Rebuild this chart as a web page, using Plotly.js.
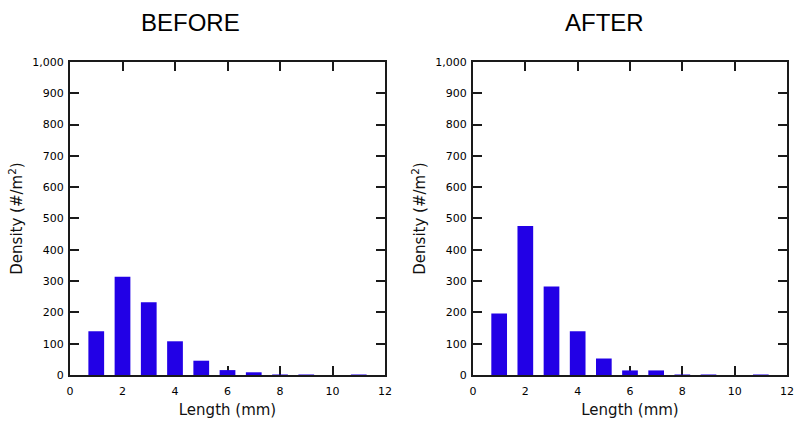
<!DOCTYPE html>
<html>
<head>
<meta charset="utf-8">
<script src="https://cdn.plot.ly/plotly-3.0.1.min.js"></script>
<style>html,body{margin:0;padding:0;background:#fff;}#chart{width:794px;height:421px;}</style>
</head>
<body>
<div id="chart"></div>
<script>
// Data
const lengthBins = [1, 2, 3, 4, 5, 6, 7, 8, 9, 10, 11];
const densityBefore = [140, 314, 233, 108, 46, 16, 9, 2, 2, 0, 2];
const densityAfter = [197, 476, 283, 140, 53, 15, 15, 2, 2, 0, 2];
const panelTitles = ['BEFORE', 'AFTER'];
const xTickVals = [0, 2, 4, 6, 8, 10, 12];
const yTickVals = [0, 100, 200, 300, 400, 500, 600, 700, 800, 900, 1000];

const barColor = '#2200E6';
const lineColor = '#1a1a1a';
const tickFont = {family: 'DejaVu Sans', size: 11, color: '#000'};
const titleFont = {family: 'DejaVu Sans', size: 15, color: '#111'};

function bars(y, xa, ya) {
  return {type: 'bar', x: lengthBins, y: y, width: 0.6, xaxis: xa, yaxis: ya,
          marker: {color: barColor, line: {width: 0}}, hoverinfo: 'x+y'};
}

function xAxis(domain, anchor) {
  return {domain: domain, anchor: anchor, range: [0, 12], tickvals: xTickVals,
          ticks: 'inside', ticklen: 9, tickwidth: 2, tickcolor: lineColor,
          showline: true, linewidth: 2, linecolor: lineColor, mirror: 'ticks',
          showgrid: false, zeroline: false, layer: 'below traces',
          tickfont: tickFont, ticklabelstandoff: 5,
          title: {text: 'Length (mm)', font: titleFont, standoff: 7}};
}
function yAxis(anchor) {
  return {domain: [0.109, 0.853], anchor: anchor, range: [0, 1000], tickvals: yTickVals,
          tickformat: ',d', ticks: 'inside', ticklen: 9, tickwidth: 2, tickcolor: lineColor,
          showline: true, linewidth: 2, linecolor: lineColor, mirror: 'ticks',
          showgrid: false, zeroline: false, layer: 'below traces',
          tickfont: tickFont, ticklabelstandoff: 2,
          title: {text: 'Density (#/m<sup>2</sup>)', font: titleFont, standoff: 6}};
}

const data = [bars(densityBefore, 'x', 'y'), bars(densityAfter, 'x2', 'y2')];

const layout = {
  width: 794, height: 421,
  margin: {l: 0, r: 0, t: 0, b: 0},
  paper_bgcolor: '#fff', plot_bgcolor: '#fff',
  showlegend: false,
  bargap: 0.4,
  xaxis: xAxis([70/794, 385/794], 'y'),
  yaxis: yAxis('x'),
  xaxis2: xAxis([473/794, 787/794], 'y2'),
  yaxis2: yAxis('x2'),
  annotations: [
    {text: panelTitles[0], xref: 'paper', yref: 'paper', x: 190/794, y: 1 - 23/421,
     xanchor: 'center', yanchor: 'middle', showarrow: false,
     font: {family: 'Liberation Sans, Arial', size: 24, color: '#000'}},
    {text: panelTitles[1], xref: 'paper', yref: 'paper', x: 604/794, y: 1 - 23/421,
     xanchor: 'center', yanchor: 'middle', showarrow: false,
     font: {family: 'Liberation Sans, Arial', size: 24, color: '#000'}}
  ]
};

Plotly.newPlot('chart', data, layout, {displayModeBar: false, staticPlot: true});
</script>
</body>
</html>
